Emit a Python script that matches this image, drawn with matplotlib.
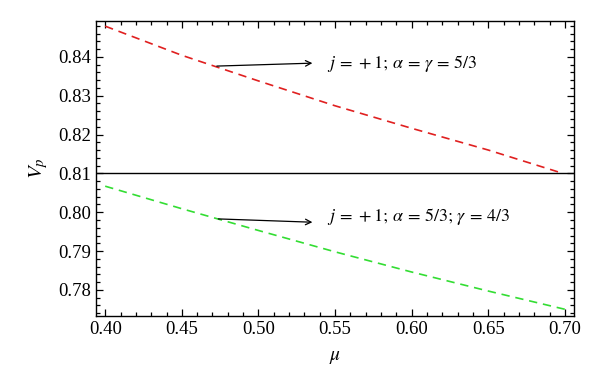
import matplotlib

matplotlib.use("Agg")
import matplotlib.pyplot as plt  # noqa: E402
from matplotlib.ticker import MultipleLocator  # noqa: E402

# values
mu = [0.40, 0.45, 0.50, 0.55, 0.60, 0.65, 0.70]
vp_red = [0.8479, 0.8404, 0.8338, 0.8274, 0.8216, 0.8160, 0.8102]
vp_green = [0.8067, 0.8009, 0.7953, 0.7898, 0.7846, 0.7797, 0.7750]
vp_const = 0.81
mu_end = 0.697

label_red = r"$j\,=\,+1;\,\alpha\,=\,\gamma\,=\,5/3$"
label_green = r"$j\,=\,+1;\,\alpha\,=\,5/3;\,\gamma\,=\,4/3$"

plt.rcParams["font.family"] = ["Liberation Serif", "DejaVu Serif"]
plt.rcParams["mathtext.fontset"] = "stix"

fig = plt.figure(figsize=(6.0, 3.91), dpi=100)
ax = fig.add_axes([0.16, 0.192, 0.797, 0.754])

x_red = mu[:-1] + [mu_end]
ax.plot(x_red, vp_red, ls=(0, (5, 3.5)), color="#e02020", lw=1.2)
ax.plot(mu, vp_green, ls=(0, (5, 3.5)), color="#33dd33", lw=1.2)
ax.axhline(vp_const, color="black", lw=1.0)

ax.annotate("", xy=(0.537, 0.8384), xytext=(0.471, 0.8376),
            arrowprops=dict(arrowstyle="->", color="black", lw=0.9))
ax.text(0.545, 0.8384, label_red, fontsize=13, va="center", ha="left")
ax.annotate("", xy=(0.537, 0.7974), xytext=(0.472, 0.7983),
            arrowprops=dict(arrowstyle="->", color="black", lw=0.9))
ax.text(0.545, 0.7989, label_green, fontsize=13, va="center", ha="left")

ax.set_xlim(0.394, 0.706)
ax.set_ylim(0.7733, 0.8492)
ax.xaxis.set_major_locator(MultipleLocator(0.05))
ax.xaxis.set_minor_locator(MultipleLocator(0.01))
ax.yaxis.set_major_locator(MultipleLocator(0.01))
ax.yaxis.set_minor_locator(MultipleLocator(0.002))
ax.xaxis.set_major_formatter(plt.FuncFormatter(lambda v, p: f"{v:.2f}"))
ax.yaxis.set_major_formatter(plt.FuncFormatter(lambda v, p: f"{v:.2f}"))
ax.tick_params(which="both", direction="in", top=True, right=True,
               labelsize=13.5, width=0.9)
ax.tick_params(which="major", length=5)
ax.tick_params(which="minor", length=3)
for s in ax.spines.values():
    s.set_linewidth(1.0)

ax.set_xlabel(r"$\mu$", fontsize=14, labelpad=8)
ax.set_ylabel(r"$V_p$", fontsize=15, labelpad=6)

fig.savefig("out.png", dpi=100)
